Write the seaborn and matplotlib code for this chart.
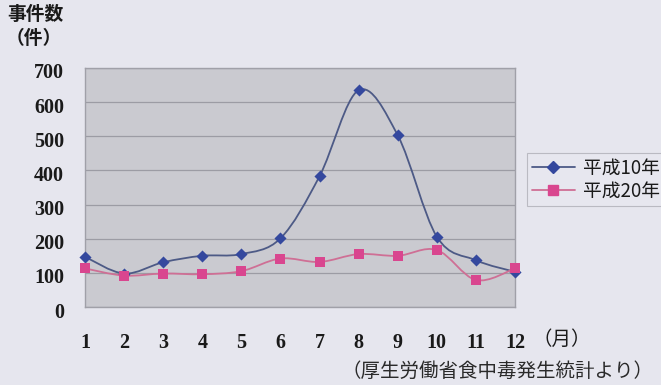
import numpy as np
import pandas as pd
import seaborn as sns
import matplotlib
matplotlib.use("Agg")
import matplotlib.pyplot as plt
import matplotlib.transforms as mtransforms
from matplotlib.path import Path
from matplotlib.patches import PathPatch
from matplotlib.lines import Line2D

# Monthly food-poisoning incident counts
months = [1, 2, 3, 4, 5, 6, 7, 8, 9, 10, 11, 12]
h10 = [147, 98, 131, 150, 155, 201, 383, 635, 503, 206, 137, 103]
h20 = [113, 92, 98, 96, 105, 142, 132, 155, 150, 167, 79, 113]
series_names = ["平成10年", "平成20年"]
y_ticks = [0, 100, 200, 300, 400, 500, 600, 700]

df = pd.DataFrame({
    "month": months * 2,
    "count": h10 + h20,
    "year": [series_names[0]] * 12 + [series_names[1]] * 12,
})

sns.set_theme(style="white")
plt.rcParams["font.family"] = ["Noto Sans CJK JP", "DejaVu Sans"]

fig = plt.figure(figsize=(6.61, 3.85), dpi=100)
fig.patch.set_facecolor("#e6e6ee")
ax = fig.add_axes([85 / 661, 1 - 307 / 385, 430 / 661, 239 / 385])
ax.set_facecolor("#cacad0")

line_colors = {series_names[0]: "#4d5a86", series_names[1]: "#cf6f95"}
marker_colors = {series_names[0]: "#34489e", series_names[1]: "#d9468f"}
markers = {series_names[0]: "D", series_names[1]: "s"}
msize = {series_names[0]: 38, series_names[1]: 52}


def smooth_path(xs, ys):
    """Catmull-Rom style Bezier curve through the points."""
    pts = np.column_stack([xs, ys]).astype(float)
    n = len(pts)
    verts = [pts[0]]
    codes = [Path.MOVETO]
    for i in range(n - 1):
        p0 = pts[i - 1] if i > 0 else pts[i]
        p1 = pts[i]
        p2 = pts[i + 1]
        p3 = pts[i + 2] if i + 2 < n else pts[i + 1]
        c1 = p1 + (p2 - p0) / 6.0
        c2 = p2 - (p3 - p1) / 6.0
        verts += [c1, c2, p2]
        codes += [Path.CURVE4] * 3
    return Path(verts, codes)


for name in series_names:
    sub = df[df["year"] == name]
    patch = PathPatch(smooth_path(sub["month"].values, sub["count"].values),
                      facecolor="none", edgecolor=line_colors[name], lw=1.3,
                      zorder=3, clip_on=False)
    ax.add_patch(patch)
    sns.scatterplot(data=sub, x="month", y="count", marker=markers[name],
                    color=marker_colors[name], s=msize[name], linewidth=0,
                    ax=ax, zorder=4, clip_on=False, legend=False)

ax.set_xlim(1, 12)
ax.set_ylim(0, 700)
ax.set_yticks(y_ticks)
ax.set_xticks(months)
ax.yaxis.grid(True, color="#9c9ca4", lw=0.9)
ax.set_axisbelow(True)
for sp in ax.spines.values():
    sp.set_color("#a0a0a8")
    sp.set_linewidth(1.0)
ax.set_xlabel("")
ax.set_ylabel("")
ax.tick_params(axis="x", direction="in", length=6, color="#a0a0a8", pad=19)
ax.tick_params(axis="y", length=0, pad=15)
tick_font = dict(family="Liberation Serif", weight="bold", size=14.5, color="#1a1a1a")
ax.set_xticklabels([str(m) for m in months], **tick_font)
ax.set_yticklabels([str(v) for v in y_ticks], **tick_font)
# value labels sit a little below their gridlines
shift = mtransforms.ScaledTranslation(0, -3 / 100, fig.dpi_scale_trans)
for lbl in ax.get_yticklabels():
    lbl.set_transform(lbl.get_transform() + shift)

# Axis captions
fig.text(7 / 661, 1 - 14 / 385, "事件数", fontsize=13.5, weight="bold",
         color="#1a1a1a", va="center", ha="left")
fig.text(6 / 661, 1 - 39 / 385, "（件）", fontsize=13.5, weight="bold",
         color="#1a1a1a", va="center", ha="left")
fig.text(533 / 661, 1 - 339 / 385, "（月）", fontsize=14, color="#1a1a1a",
         va="center", ha="left")
fig.text(341 / 661, 1 - 371 / 385, "（厚生労働省食中毒発生統計より）", fontsize=14,
         color="#2a2a2a", va="center", ha="left")

handles = [Line2D([0], [0], color=line_colors[n], lw=1.3, marker=markers[n],
                  markerfacecolor=marker_colors[n], markeredgecolor=marker_colors[n],
                  markersize=6 if n == series_names[0] else 7)
           for n in series_names]
leg = fig.legend(handles, series_names, loc="upper left",
                 bbox_to_anchor=(527 / 661, 1 - 153 / 385), frameon=True,
                 fontsize=13.5, handlelength=2.3, handletextpad=0.45,
                 borderpad=0.25, labelspacing=0.1, borderaxespad=0,
                 fancybox=False)
leg.get_frame().set_facecolor("#e8e8f0")
leg.get_frame().set_edgecolor("#b0b0b8")
leg.get_frame().set_linewidth(0.8)
for t in leg.get_texts():
    t.set_color("#1a1a1a")

fig.savefig("out.png", dpi=100, facecolor=fig.get_facecolor())
